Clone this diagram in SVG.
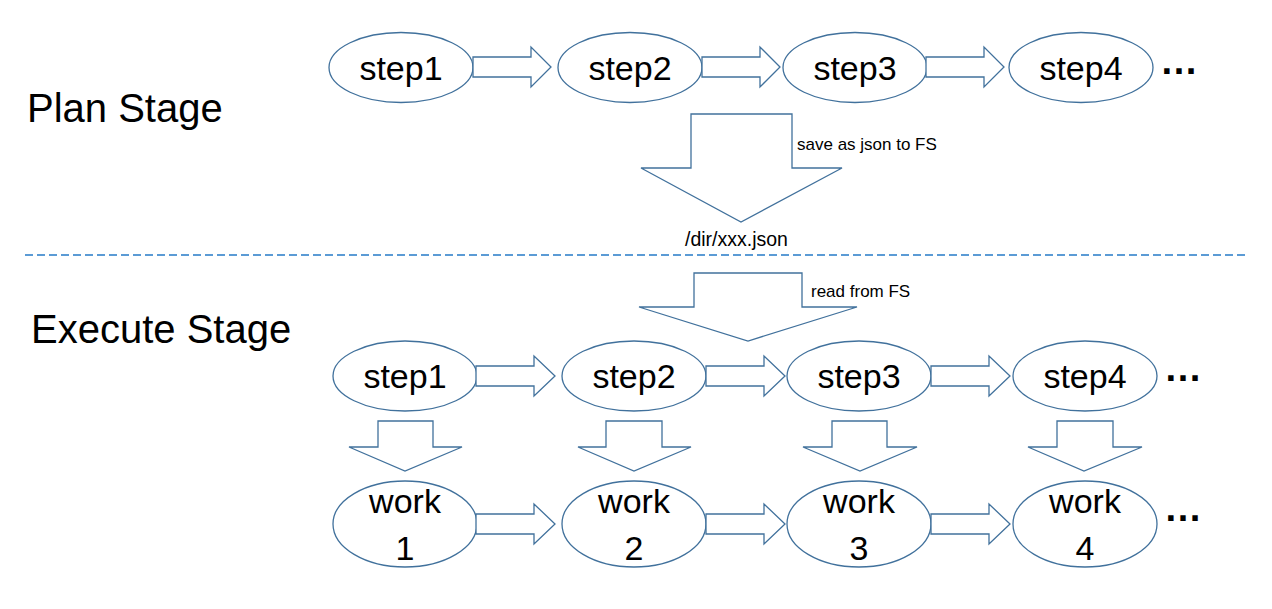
<svg xmlns="http://www.w3.org/2000/svg" width="1272" height="609" viewBox="0 0 1272 609">
<style>
.node{fill:#fff;stroke:#41719C;stroke-width:1.3}
.arr{fill:#fff;stroke:#41719C;stroke-width:1.3;stroke-linejoin:miter}
.t{font-family:"Liberation Sans",Arial,sans-serif;fill:#000}
.lbl{font-size:34px;text-anchor:middle}
.stage{font-size:40px}
.small{font-size:17px}
.dots{font-size:38px;font-weight:bold}
</style>
<rect width="1272" height="609" fill="#fff"/>
<g id="plan-label"><text class="t stage" x="27" y="122">Plan Stage</text></g>
<g id="execute-label"><text class="t stage" x="31" y="343">Execute Stage</text></g>
<g id="divider"><line x1="25" y1="255" x2="1245" y2="255" stroke="#5B9BD5" stroke-width="2" stroke-dasharray="8,4"/></g>

<g id="plan-step1"><ellipse class="node" cx="401" cy="67.5" rx="72" ry="35"/><text class="t lbl" x="401" y="80">step1</text></g>
<g id="plan-step2"><ellipse class="node" cx="630" cy="67.5" rx="72" ry="35"/><text class="t lbl" x="630" y="80">step2</text></g>
<g id="plan-step3"><ellipse class="node" cx="855" cy="67.5" rx="72" ry="35"/><text class="t lbl" x="855" y="80">step3</text></g>
<g id="plan-step4"><ellipse class="node" cx="1081" cy="67.5" rx="72" ry="35"/><text class="t lbl" x="1081" y="80">step4</text></g>
<g id="plan-more"><text class="t dots" x="1160" y="74">…</text></g>

<g id="exec-step1"><ellipse class="node" cx="405" cy="376" rx="72" ry="35"/><text class="t lbl" x="405" y="388">step1</text></g>
<g id="exec-step2"><ellipse class="node" cx="634" cy="376" rx="72" ry="35"/><text class="t lbl" x="634" y="388">step2</text></g>
<g id="exec-step3"><ellipse class="node" cx="859" cy="376" rx="72" ry="35"/><text class="t lbl" x="859" y="388">step3</text></g>
<g id="exec-step4"><ellipse class="node" cx="1085" cy="376" rx="72" ry="35"/><text class="t lbl" x="1085" y="388">step4</text></g>
<g id="exec-more"><text class="t dots" x="1164" y="381">…</text></g>

<g id="work1"><ellipse class="node" cx="405" cy="524" rx="72" ry="43"/><text class="t lbl" x="405" y="513">work</text><text class="t lbl" x="405" y="560">1</text></g>
<g id="work2"><ellipse class="node" cx="634" cy="524" rx="72" ry="43"/><text class="t lbl" x="634" y="513">work</text><text class="t lbl" x="634" y="560">2</text></g>
<g id="work3"><ellipse class="node" cx="859" cy="524" rx="72" ry="43"/><text class="t lbl" x="859" y="513">work</text><text class="t lbl" x="859" y="560">3</text></g>
<g id="work4"><ellipse class="node" cx="1085" cy="524" rx="72" ry="43"/><text class="t lbl" x="1085" y="513">work</text><text class="t lbl" x="1085" y="560">4</text></g>
<g id="work-more"><text class="t dots" x="1164" y="521">…</text></g>

<g id="connectors">
<polygon class="arr" points="473,57 531,57 531,47 551,67 531,87 531,77 473,77"/>
<polygon class="arr" points="702,57 760,57 760,47 780,67 760,87 760,77 702,77"/>
<polygon class="arr" points="926,57 984,57 984,47 1004,67 984,87 984,77 926,77"/>

<polygon class="arr" points="691,114 792,114 792,168 842,168 741,222 641,168 691,168"/>
<text class="t small" x="797" y="150">save as json to FS</text>
<text class="t" style="font-size:19.5px" x="685" y="246">/dir/xxx.json</text>

<polygon class="arr" points="694,273 802,273 802,307 857,307 748,341 639,307 694,307"/>
<text class="t small" x="811" y="297">read from FS</text>

<polygon class="arr" points="476,366 534,366 534,356 555,376 534,396 534,386 476,386"/>
<polygon class="arr" points="706,366 764,366 764,356 785,376 764,396 764,386 706,386"/>
<polygon class="arr" points="931,366 989,366 989,356 1010,376 989,396 989,386 931,386"/>

<polygon class="arr" points="378,421 433,421 433,447 462,447 405,471 349,447 378,447"/>
<polygon class="arr" points="606,421 662,421 662,447 691,447 634,471 578,447 606,447"/>
<polygon class="arr" points="832,421 887,421 887,447 917,447 860,471 803,447 832,447"/>
<polygon class="arr" points="1057,421 1113,421 1113,447 1142,447 1084,471 1028,447 1057,447"/>

<polygon class="arr" points="476,514 534,514 534,504 555,524 534,544 534,534 476,534"/>
<polygon class="arr" points="706,514 764,514 764,504 785,524 764,544 764,534 706,534"/>
<polygon class="arr" points="931,514 989,514 989,504 1010,524 989,544 989,534 931,534"/>
</g>
</svg>
